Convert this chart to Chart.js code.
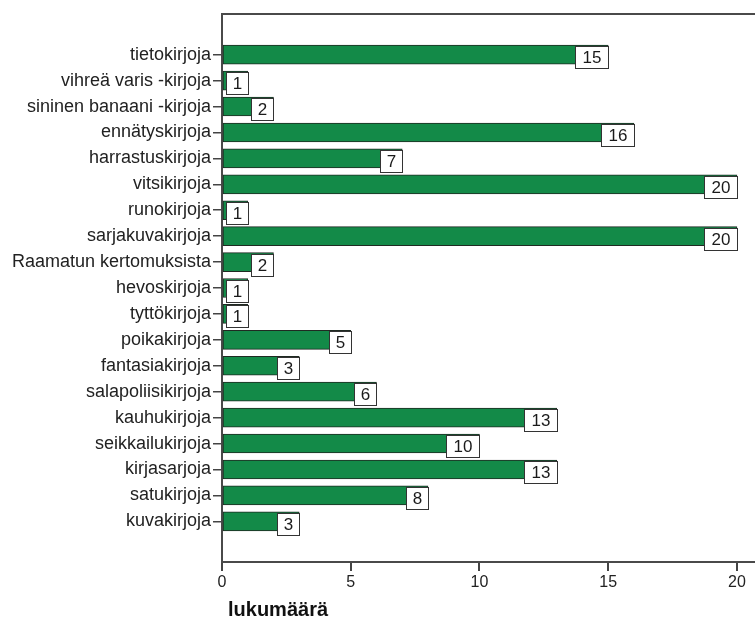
<!DOCTYPE html>
<html>
<head>
<meta charset="utf-8">
<script src="https://cdn.jsdelivr.net/npm/chart.js@4.4.1/dist/chart.umd.min.js"></script>
<style>
  html, body { margin: 0; padding: 0; background: #ffffff; }
  #wrap { width: 755px; height: 619px; }
</style>
</head>
<body>
<div id="wrap"><canvas id="c" width="755" height="619"></canvas></div>
<script>
// Book categories, top to bottom, and how many answers named each
const categories = [
  'tietokirjoja',
  'vihreä varis -kirjoja',
  'sininen banaani -kirjoja',
  'ennätyskirjoja',
  'harrastuskirjoja',
  'vitsikirjoja',
  'runokirjoja',
  'sarjakuvakirjoja',
  'Raamatun kertomuksista',
  'hevoskirjoja',
  'tyttökirjoja',
  'poikakirjoja',
  'fantasiakirjoja',
  'salapoliisikirjoja',
  'kauhukirjoja',
  'seikkailukirjoja',
  'kirjasarjoja',
  'satukirjoja',
  'kuvakirjoja'
];
const counts = [15, 1, 2, 16, 7, 20, 1, 20, 2, 1, 1, 5, 3, 6, 13, 10, 13, 8, 3];
const xTicks = [0, 5, 10, 15, 20];
const xTitle = 'lukumäärä';

const FONT = '"Liberation Sans", Arial, Helvetica, sans-serif';
const AXIS_COLOR = '#4a4a4a';

// each bar sits at its category's row index on a linear axis
const points = categories.map((name, i) => ({ x: counts[i], y: i }));

// white boxes with the count, anchored at the end of each bar
const valueBoxes = {
  id: 'valueBoxes',
  afterDatasetsDraw(chart) {
    const ctx = chart.ctx;
    const meta = chart.getDatasetMeta(0);
    ctx.save();
    ctx.font = '17px ' + FONT;
    ctx.textAlign = 'center';
    ctx.textBaseline = 'middle';
    meta.data.forEach((bar, i) => {
      const txt = String(counts[i]);
      const w = txt.length > 1 ? 34 : 23;
      const h = 23;
      const right = Math.round(bar.x) + 1;
      const top = Math.round(bar.y - bar.height / 2) + 1;
      const left = right - w;
      ctx.fillStyle = '#ffffff';
      ctx.fillRect(left, top, w, h);
      ctx.strokeStyle = '#333333';
      ctx.lineWidth = 1;
      ctx.strokeRect(left + 0.5, top + 0.5, w - 1, h - 1);
      ctx.fillStyle = '#1a1a1a';
      ctx.fillText(txt, left + w / 2, top + h / 2 + 1);
    });
    ctx.restore();
  }
};

// axis title under the value axis, slightly indented from the plot's left edge
const axisTitle = {
  id: 'axisTitle',
  afterDraw(chart) {
    const ctx = chart.ctx;
    ctx.save();
    ctx.font = 'bold 20px ' + FONT;
    ctx.fillStyle = '#111111';
    ctx.textAlign = 'left';
    ctx.textBaseline = 'alphabetic';
    ctx.fillText(xTitle, chart.chartArea.left + 6, chart.height - 3);
    ctx.restore();
  }
};

new Chart(document.getElementById('c'), {
  type: 'bar',
  data: {
    datasets: [{
      data: points,
      backgroundColor: '#138a48',
      borderColor: '#1f2a22',
      borderWidth: 1,
      borderSkipped: false,
      barThickness: 19
    }]
  },
  options: {
    indexAxis: 'y',
    responsive: false,
    animation: false,
    layout: { padding: 0 },
    plugins: {
      legend: { display: false },
      tooltip: { enabled: false }
    },
    scales: {
      y: {
        type: 'linear',
        position: 'left',
        reverse: true,
        offset: false,
        min: -1.57,
        max: 19.57,
        afterBuildTicks: s => { s.ticks = categories.map((_, i) => ({ value: i })); },
        afterFit: s => { s.width = 222; },
        ticks: {
          autoSkip: false,
          padding: 2,
          color: '#222222',
          font: { family: FONT, size: 18 },
          callback: v => categories[v]
        },
        grid: { offset: false, drawOnChartArea: false, drawTicks: true, tickLength: 9, color: '#444444', lineWidth: 1.5 },
        border: { display: true, color: AXIS_COLOR, width: 2 }
      },
      x: {
        type: 'linear',
        position: 'bottom',
        min: 0,
        max: 20.7,
        afterBuildTicks: s => { s.ticks = xTicks.map(v => ({ value: v })); },
        afterFit: s => { s.height = 57; },
        ticks: {
          padding: 2,
          color: '#222222',
          font: { family: FONT, size: 16 }
        },
        grid: { drawOnChartArea: false, drawTicks: true, tickLength: 9, color: '#444444', lineWidth: 2 },
        border: { display: true, color: AXIS_COLOR, width: 2 }
      },
      top: {
        type: 'linear',
        position: 'top',
        min: 0,
        max: 20.7,
        afterFit: s => { s.height = 14; },
        ticks: { display: false },
        grid: { display: false },
        border: { display: true, color: AXIS_COLOR, width: 2 }
      }
    }
  },
  plugins: [valueBoxes, axisTitle]
});
</script>
</body>
</html>
